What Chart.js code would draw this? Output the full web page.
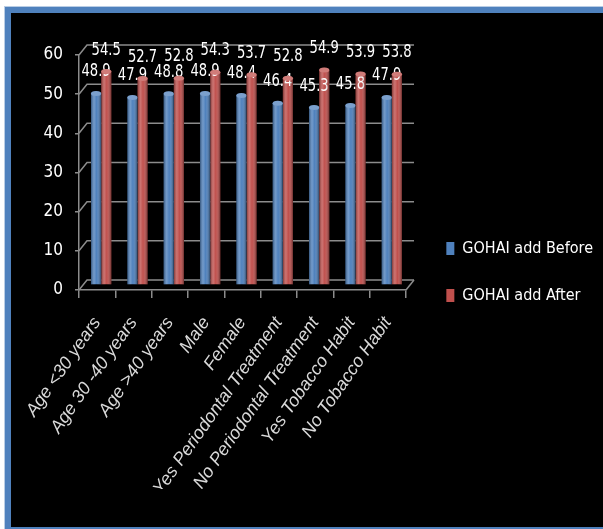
<!DOCTYPE html>
<html>
<head>
<meta charset="utf-8">
<script src="https://cdn.jsdelivr.net/npm/chart.js@4.4.1/dist/chart.umd.min.js"></script>
<style>
  html, body { margin: 0; padding: 0; background: #fff; overflow: hidden; }
  #frame {
    position: absolute; left: 5px; top: 7px;
    width: 620px; height: 514px;
    background: #000;
    border: 6px solid #4f81bd;
    outline: 1px solid #b9cde5;
  }
  #wrap { position: absolute; left: 0; top: 0; width: 592px; height: 514px; }
</style>
</head>
<body>
<div id="frame"><div id="wrap"><canvas id="grafico"></canvas></div></div>
<script>
// Datos
const categorias = ['Age <30 years', 'Age 30 -40 years', 'Age >40 years', 'Male', 'Female',
  'Yes Periodontal Treatment', 'No Periodontal Treatment', 'Yes Tobacco Habit', 'No Tobacco Habit'];
const antes = [48.9, 47.9, 48.8, 48.9, 48.4, 46.4, 45.3, 45.8, 47.9];
const despues = [54.5, 52.7, 52.8, 54.3, 53.7, 52.8, 54.9, 53.9, 53.8];
const ticksY = [0, 10, 20, 30, 40, 50, 60];

// Colores
const colorAzul = '#4f81bd';
const colorRojo = '#c0504d';
const colorGrid = '#8c8c8c';
const fuenteAngosta = '"DejaVu Sans Condensed", "Liberation Sans Narrow", sans-serif';

// profundidad del efecto 3D (pared del fondo)
const DX = 8, DY = 10;

const pared3d = {
  id: 'pared3d',
  beforeDatasetsDraw(chart) {
    const { ctx, chartArea: a, scales: { y } } = chart;
    ctx.save();
    ctx.strokeStyle = colorGrid;
    ctx.lineWidth = 1.5;
    ticksY.forEach(v => {
      const py = y.getPixelForValue(v);
      ctx.beginPath();
      ctx.moveTo(a.left, py);
      ctx.lineTo(a.left + DX, py - DY);
      ctx.lineTo(a.right + DX, py - DY);
      ctx.stroke();
    });
    ctx.beginPath();
    ctx.moveTo(a.right, a.bottom);
    ctx.lineTo(a.right + DX, a.bottom - DY);
    ctx.stroke();
    ctx.restore();
    // las barras se dibujan a media profundidad
    ctx.save();
    ctx.translate(DX / 2, -DY / 2);
  },
  afterDatasetsDraw(chart) {
    const { ctx } = chart;
    chart.data.datasets.forEach((ds, i) => {
      const meta = chart.getDatasetMeta(i);
      meta.data.forEach((bar, j) => {
        const { x, y, base, width } = bar.getProps(['x', 'y', 'base', 'width'], true);
        const l = x - width / 2;
        // sombreado cilíndrico
        const g = ctx.createLinearGradient(l, 0, l + width, 0);
        g.addColorStop(0, 'rgba(0,0,0,0.35)');
        g.addColorStop(0.3, 'rgba(255,255,255,0.2)');
        g.addColorStop(0.55, 'rgba(255,255,255,0)');
        g.addColorStop(1, 'rgba(0,0,0,0.45)');
        ctx.fillStyle = g;
        ctx.fillRect(l, y, width, base - y);
        ctx.beginPath();
        ctx.ellipse(x, y, width / 2, 2.5, 0, 0, Math.PI * 2);
        ctx.fillStyle = ds.backgroundColor;
        ctx.fill();
        ctx.fillStyle = 'rgba(255,255,255,0.25)';
        ctx.fill();
        // etiqueta de valor (texto angosto)
        ctx.save();
        ctx.translate(x, y - 17);
        ctx.scale(0.86, 1);
        ctx.fillStyle = '#ffffff';
        ctx.font = '17px ' + fuenteAngosta;
        ctx.textAlign = 'center';
        ctx.textBaseline = 'alphabetic';
        ctx.fillText(ds.data[j].toFixed(1), 0, 0);
        ctx.restore();
      });
    });
    ctx.restore();
  }
};

new Chart(document.getElementById('grafico'), {
  type: 'bar',
  data: {
    labels: categorias,
    datasets: [{
      label: 'GOHAI add Before',
      data: antes,
      backgroundColor: colorAzul,
      borderWidth: 0,
      categoryPercentage: 0.56,
      barPercentage: 1
    }, {
      label: 'GOHAI add After',
      data: despues,
      backgroundColor: colorRojo,
      borderWidth: 0,
      categoryPercentage: 0.56,
      barPercentage: 1
    }]
  },
  options: {
    responsive: true,
    maintainAspectRatio: false,
    animation: false,
    layout: { padding: { top: 42, bottom: 38, left: 0, right: 0 } },
    plugins: {
      tooltip: { enabled: false },
      legend: {
        position: 'right',
        maxWidth: 220,
        labels: {
          color: '#ffffff',
          font: { family: fuenteAngosta, size: 16 },
          boxWidth: 8,
          boxHeight: 13,
          padding: 31
        }
      }
    },
    scales: {
      x: {
        grid: { drawOnChartArea: false, tickLength: 8, color: colorGrid, lineWidth: 1.5 },
        border: { color: colorGrid, width: 1.5 },
        ticks: {
          color: '#d9d9d9',
          font: { family: '"Liberation Sans", sans-serif', size: 18, style: 'italic' },
          minRotation: 55,
          maxRotation: 55,
          autoSkip: false,
          padding: 15
        },
        afterFit: s => { s.height = 199; }
      },
      y: {
        min: 0,
        max: 60,
        ticks: {
          stepSize: 10,
          color: '#ffffff',
          font: { family: fuenteAngosta, size: 17 },
          padding: 12
        },
        grid: { drawOnChartArea: false, tickLength: 4, color: colorGrid, lineWidth: 1.5 },
        border: { color: colorGrid, width: 1.5 },
        afterFit: s => { s.width = 68; }
      },
      // espacio entre el gráfico y la leyenda
      hueco: {
        position: 'right',
        display: true,
        grid: { display: false },
        ticks: { display: false },
        border: { display: false },
        afterFit: s => { s.width = s.chart.width - s.chart.legend.width - 395; }
      }
    }
  },
  plugins: [pared3d]
});
</script>
</body>
</html>
